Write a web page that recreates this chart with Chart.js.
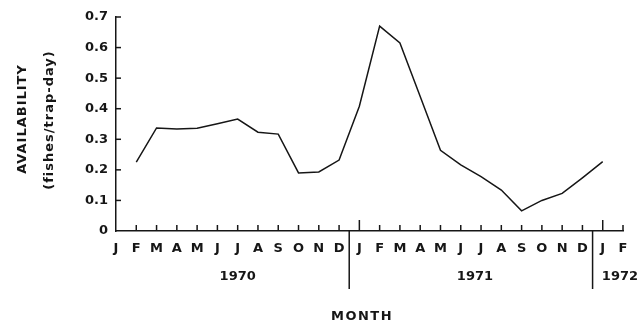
<!DOCTYPE html>
<html>
<head>
<meta charset="utf-8">
<script src="https://cdn.jsdelivr.net/npm/chart.js@4.4.1/dist/chart.umd.min.js"></script>
<style>
  html, body { margin: 0; padding: 0; background: #fff; }
  canvas { display: block; }
</style>
</head>
<body>
<canvas id="availChart" width="642" height="325"></canvas>
<script>
// months Jan 1970 .. Feb 1972
const monthLabels = [
    'J','F','M','A','M','J','J','A','S','O','N','D',
    'J','F','M','A','M','J','J','A','S','O','N','D',
    'J','F'
];
const years = ['1970', '1971', '1972'];
// fishes per trap-day, no sample in Jan 1970 or Feb 1972
const availability = [
    null, 0.225, 0.337, 0.334, 0.336, 0.351, 0.366, 0.323, 0.317, 0.190, 0.193, 0.232,
    0.408, 0.670, 0.615, 0.440, 0.264, 0.216, 0.178, 0.134, 0.066, 0.100, 0.123, 0.174,
    0.227, null
];
const yTicks = [0, 0.1, 0.2, 0.3, 0.4, 0.5, 0.6, 0.7];

const INK = '#161616';
const FONT = 'DejaVu Sans';

// inward tick marks, year dividers and axis titles
const axisDecor = {
    id: 'axisDecor',
    afterDraw(chart) {
        const ctx = chart.ctx;
        const x = chart.scales.x;
        const y = chart.scales.y;
        const area = chart.chartArea;
        ctx.save();
        ctx.strokeStyle = INK;
        ctx.fillStyle = INK;
        ctx.lineWidth = 1.5;

        yTicks.forEach(v => {
            if (v === 0) return;
            const py = y.getPixelForValue(v);
            ctx.beginPath();
            ctx.moveTo(area.left, py);
            ctx.lineTo(area.left + 5, py);
            ctx.stroke();
        });

        monthLabels.forEach((m, i) => {
            if (i === 0) return;
            const px = x.getPixelForValue(i);
            const len = i % 12 === 0 ? 11 : 6;
            ctx.beginPath();
            ctx.moveTo(px, area.bottom);
            ctx.lineTo(px, area.bottom - len);
            ctx.stroke();
        });

        // year boundaries between December and January
        [11.5, 23.5].forEach(v => {
            const px = x.getPixelForValue(v);
            ctx.beginPath();
            ctx.moveTo(px, area.bottom);
            ctx.lineTo(px, area.bottom + 58);
            ctx.stroke();
        });

        ctx.font = 'bold 13px ' + FONT;
        ctx.textAlign = 'center';
        ctx.textBaseline = 'middle';
        const yearPos = [6, 17.7, 24.85];
        years.forEach((yr, i) => {
            ctx.fillText(yr, x.getPixelForValue(yearPos[i]), 277);
        });

        ctx.letterSpacing = '1.5px';
        ctx.fillText('MONTH', 362, 317);

        ctx.letterSpacing = '1px';
        ctx.translate(23, 119);
        ctx.rotate(-Math.PI / 2);
        ctx.fillText('AVAILABILITY', 0, 0);
        ctx.rotate(Math.PI / 2);
        ctx.translate(27, 1);
        ctx.rotate(-Math.PI / 2);
        ctx.fillText('(fishes/trap-day)', 0, 0);
        ctx.restore();
    }
};

new Chart(document.getElementById('availChart'), {
    type: 'line',
    data: {
        labels: monthLabels,
        datasets: [{
            data: availability,
            borderColor: INK,
            borderWidth: 1.5,
            pointRadius: 0,
            tension: 0,
            fill: false
        }]
    },
    options: {
        responsive: false,
        animation: false,
        devicePixelRatio: 1,
        layout: { padding: { top: 17, right: 19, left: 0, bottom: 0 } },
        plugins: {
            legend: { display: false },
            tooltip: { enabled: false }
        },
        scales: {
            x: {
                type: 'category',
                offset: false,
                grid: { display: false, drawTicks: false },
                border: { display: true, color: INK, width: 1.5 },
                ticks: {
                    autoSkip: false,
                    maxRotation: 0,
                    padding: 10,
                    color: INK,
                    font: { family: FONT, size: 13, weight: 'bold' }
                },
                afterFit(scale) { scale.height = 94; }
            },
            y: {
                min: 0,
                max: 0.7,
                grid: { display: false, drawTicks: false },
                border: { display: true, color: INK, width: 1.5 },
                ticks: {
                    stepSize: 0.1,
                    padding: 8,
                    color: INK,
                    font: { family: FONT, size: 13, weight: 'bold' },
                    callback: v => v === 0 ? '0' : v.toFixed(1)
                },
                afterFit(scale) { scale.width = 116; }
            }
        }
    },
    plugins: [axisDecor]
});
</script>
</body>
</html>
